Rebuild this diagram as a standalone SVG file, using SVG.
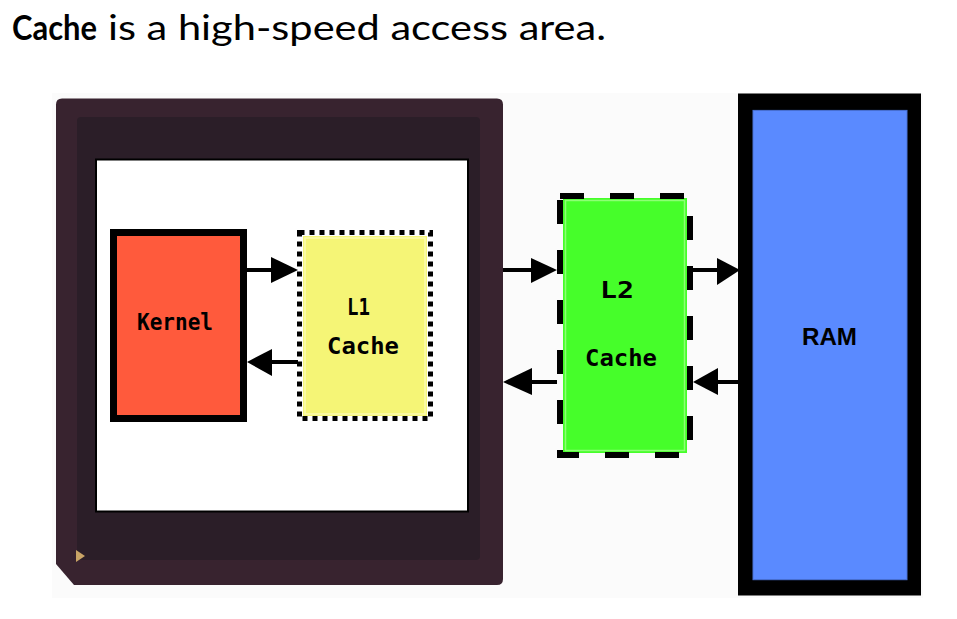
<svg xmlns="http://www.w3.org/2000/svg" width="957" height="619" viewBox="0 0 957 619">
<defs>
<style>
.title{font-family:Lato,"Open Sans","Liberation Sans",sans-serif;font-size:34px;fill:#000}
.pix{font-family:"DejaVu Sans Mono","Liberation Mono",monospace;font-weight:bold;font-size:23px;fill:#000}
.ram{font-family:"Liberation Sans",Arial,sans-serif;font-weight:bold;font-size:23px;fill:#000}
.line{stroke:#000;stroke-width:4;fill:none}
.head{fill:#000}
</style>
</defs>
<rect x="0" y="0" width="957" height="619" fill="#ffffff"/>
<rect x="52" y="93" width="871" height="505" fill="#fbfbfb"/>
<g id="title">
<text class="title" x="12" y="40" font-weight="bold" textLength="85" lengthAdjust="spacingAndGlyphs">Cache</text>
<text class="title" x="108" y="40" textLength="498" lengthAdjust="spacingAndGlyphs">is a high-speed access area.</text>
</g>
<g id="chip">
<path d="M62,98.6 H497 Q503,98.6 503,104.6 V579 Q503,585 497,585 H74 L56,564 V104.6 Q56,98.6 62,98.6 Z" fill="#38232f"/>
<rect x="77" y="117" width="403" height="443" rx="4" fill="#2b1e28"/>
<polygon points="76,550 85,556 76,562" fill="#c9a466"/>
<rect x="96" y="159.5" width="372" height="352" fill="#ffffff" stroke="#000" stroke-width="2"/>
</g>
<g id="kernel">
<rect x="113.5" y="232.5" width="130" height="186" fill="#ff5a3c" stroke="#000" stroke-width="7"/>
<text class="pix" x="137" y="330" textLength="76" lengthAdjust="spacingAndGlyphs">Kernel</text>
</g>
<g id="l1cache">
<rect x="303" y="236" width="124" height="180" fill="#f5f576"/>
<rect x="305" y="238" width="120" height="176" fill="none" stroke="#fbfbb0" stroke-width="1.5"/>
<rect x="299.5" y="232.5" width="131" height="186" fill="none" stroke="#000" stroke-width="5" stroke-dasharray="5 5"/>
<text class="pix" x="347" y="315" textLength="23" lengthAdjust="spacingAndGlyphs">L1</text>
<text class="pix" x="327" y="354" textLength="72" lengthAdjust="spacingAndGlyphs">Cache</text>
</g>
<g id="l2cache">
<rect x="563" y="198" width="124" height="255" fill="#46fe2a"/>
<rect x="565.5" y="200.5" width="119" height="250" fill="none" stroke="#8dff74" stroke-width="1.5"/>
<rect x="560" y="196" width="130" height="259" fill="none" stroke="#000" stroke-width="6" stroke-dasharray="24 26"/>
<text class="pix" x="600" y="298" textLength="34" lengthAdjust="spacingAndGlyphs">L2</text>
<text class="pix" x="585" y="366" textLength="72" lengthAdjust="spacingAndGlyphs">Cache</text>
</g>
<g id="ram">
<rect x="738" y="93.5" width="183" height="502" fill="#000"/>
<rect x="753" y="110.4" width="154" height="469.3" fill="#5a8aff" stroke="#4a72d6" stroke-width="1"/>
<text class="ram" x="802" y="345" textLength="55" lengthAdjust="spacingAndGlyphs">RAM</text>
</g>
<g id="connectors">
<line class="line" x1="247" y1="270" x2="273" y2="270"/>
<polygon class="head" points="271,257 298,270 271,283"/>
<line class="line" x1="270" y1="362" x2="298" y2="362"/>
<polygon class="head" points="247,362 272,349 272,376"/>
<line class="line" x1="503" y1="270" x2="533" y2="270"/>
<polygon class="head" points="531,258 557,270 531,283"/>
<line class="line" x1="530" y1="382" x2="557" y2="382"/>
<polygon class="head" points="503,382 532,368 532,395"/>
<line class="line" x1="693" y1="270" x2="719" y2="270"/>
<polygon class="head" points="717,258 740,270 717,285"/>
<line class="line" x1="716" y1="382" x2="740" y2="382"/>
<polygon class="head" points="693,382 718,368 718,395"/>
</g>
</svg>
